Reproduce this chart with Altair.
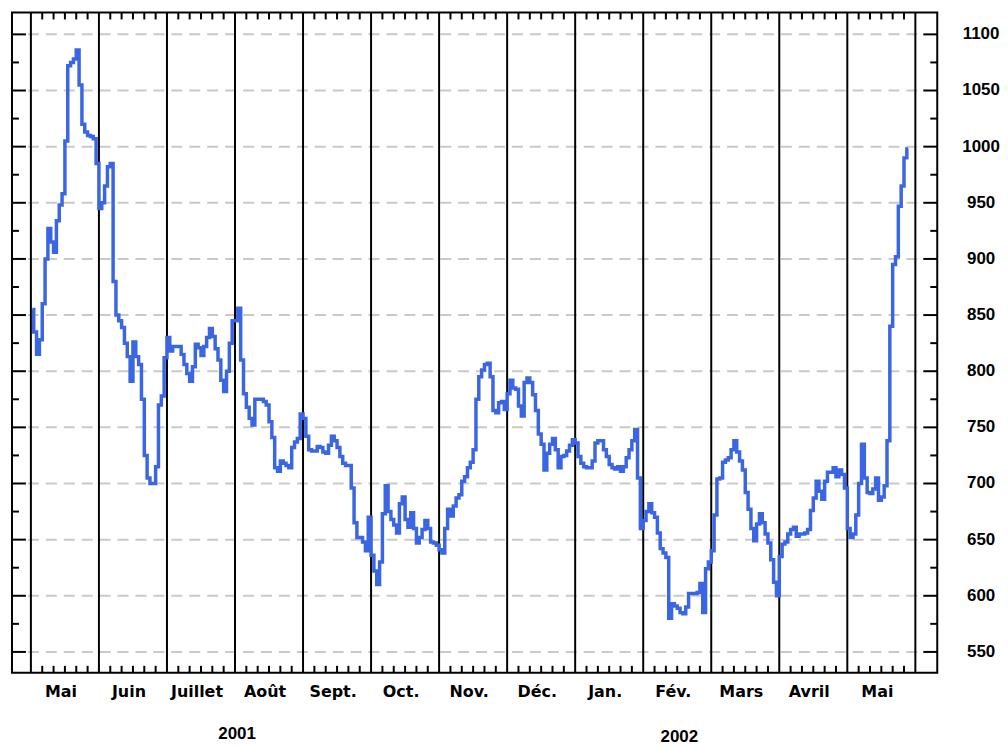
import altair as alt
import pandas as pd

# ---- data ----
months = ["Mai", "Juin", "Juillet", "Août", "Sept.", "Oct.", "Nov.",
          "Déc.", "Jan.", "Fév.", "Mars", "Avril", "Mai"]

mai01 = [855, 835, 815, 828, 860, 900, 927, 915, 906, 934, 948, 958,
         1005, 1072, 1075, 1078, 1086, 1055, 1020, 1013, 1010, 1009, 1007, 985]
juin01 = [945, 950, 965, 982, 985, 880, 850, 845, 839, 825, 813, 791,
          826, 813, 806, 775, 725, 705, 700, 700, 715, 770, 778, 812]
juil01 = [830, 818, 822, 822, 822, 815, 806, 798, 791, 804, 824, 821,
          814, 822, 830, 838, 831, 820, 810, 792, 782, 800, 825, 845]
aout01 = [845, 856, 810, 780, 768, 758, 752, 775, 775, 775, 773, 770,
          755, 741, 714, 711, 720, 718, 716, 714, 732, 737, 740, 762]
sept01 = [758, 742, 730, 729, 729, 733, 732, 728, 727, 734, 742, 738,
          732, 724, 718, 716, 716, 696, 665, 652, 652, 648, 640, 670]
oct01 = [636, 622, 610, 630, 673, 698, 675, 668, 663, 656, 682, 688,
         668, 661, 674, 660, 647, 652, 659, 667, 660, 648, 647, 645]
nov01 = [641, 638, 660, 677, 671, 680, 687, 690, 702, 706, 714, 719,
         730, 775, 795, 801, 806, 807, 795, 765, 763, 772, 773, 766]
dec01 = [780, 792, 785, 784, 769, 760, 790, 794, 790, 779, 765, 744,
         735, 712, 727, 735, 740, 730, 714, 724, 725, 729, 734, 739]
jan02 = [736, 724, 718, 715, 714, 714, 720, 736, 738, 738, 730, 724,
         717, 714, 713, 715, 711, 715, 723, 730, 738, 748, 705, 660]
fev02 = [667, 675, 682, 674, 670, 656, 642, 638, 634, 580, 593, 591,
         589, 585, 584, 590, 602, 602, 602, 603, 611, 585, 624, 630]
mars02 = [640, 672, 704, 705, 719, 721, 723, 730, 738, 728, 720, 712,
          692, 677, 660, 649, 664, 673, 665, 655, 647, 632, 612, 600]
avr02 = [635, 646, 648, 655, 659, 661, 653, 655, 655, 656, 659, 676,
         687, 702, 693, 686, 702, 710, 710, 714, 706, 712, 708, 696]
mai02 = [660, 652, 655, 672, 700, 735, 705, 692, 691, 695, 705, 685,
         688, 698, 738, 840, 895, 902, 947, 965, 990, 998]

series = [mai01, juin01, juil01, aout01, sept01, oct01, nov01,
          dec01, jan02, fev02, mars02, avr02, mai02]
SAMPLES_PER_MONTH = 24

y_major = list(range(550, 1101, 50))
y_minor = list(range(575, 1100, 50))
years = ["2001", "2002"]

# ---- tables ----
rows = []
for m, vals in enumerate(series):
    for i, v in enumerate(vals):
        rows.append({"t": m + (i + 0.5) / SAMPLES_PER_MONTH, "v": v})
df_line = pd.DataFrame(rows)
df_bounds = pd.DataFrame({"t": list(range(len(months) + 1))})
df_week = pd.DataFrame({"t": [m + k / 6 for m in range(len(months)) for k in range(1, 6)]})
df_major = pd.DataFrame({"v": y_major})
df_minor = pd.DataFrame({"v": y_minor})
df_months = pd.DataFrame({"t": [m + 0.5 for m in range(len(months))], "label": months})

W, H = 929, 663
xs = alt.Scale(domain=[-0.278, 13.322], nice=False, zero=False)
ys = alt.Scale(domain=[531.4, 1119.5], nice=False, zero=False)
X = lambda: alt.X("t:Q", scale=xs, axis=None)
Y = lambda: alt.Y("v:Q", scale=ys, axis=None)

grid = alt.Chart(df_major).mark_rule(color="#c9c9c9", strokeWidth=2, strokeDash=[11, 7]).encode(
    y=Y(), x=alt.value(16), x2=alt.value(W - 15))

bounds = alt.Chart(df_bounds).mark_rule(color="black", strokeWidth=2).encode(
    x=X(), y=alt.value(0), y2=alt.value(H))

week_bottom = alt.Chart(df_week).mark_rule(color="black", strokeWidth=2).encode(
    x=X(), y=alt.value(H), y2=alt.value(H - 7))
week_top = alt.Chart(df_week).mark_rule(color="black", strokeWidth=2).encode(
    x=X(), y=alt.value(0), y2=alt.value(7))

left_major = alt.Chart(df_major).mark_rule(color="black", strokeWidth=2).encode(
    y=Y(), x=alt.value(0), x2=alt.value(14))
left_minor = alt.Chart(df_minor).mark_rule(color="black", strokeWidth=2).encode(
    y=Y(), x=alt.value(0), x2=alt.value(7))
right_major = alt.Chart(df_major).mark_rule(color="black", strokeWidth=2).encode(
    y=Y(), x=alt.value(W - 14), x2=alt.value(W))
right_minor = alt.Chart(df_minor).mark_rule(color="black", strokeWidth=2).encode(
    y=Y(), x=alt.value(W - 7), x2=alt.value(W))

line = alt.Chart(df_line).mark_line(color="#3a66e4", strokeWidth=3.5, interpolate="step").encode(
    x=X(), y=Y())

ylabels = alt.Chart(df_major).mark_text(
    font="Liberation Sans", fontWeight="bold", fontSize=17, align="center",
    baseline="middle", color="black").encode(
    y=Y(), x=alt.value(W + 44), text=alt.Text("v:Q"))

mlabels = alt.Chart(df_months).mark_text(
    font="DejaVu Sans", fontWeight="bold", fontSize=16, align="center",
    baseline="alphabetic", dx=-4, color="black").encode(
    x=X(), y=alt.value(H + 24), text="label:N")

year1 = alt.Chart(pd.DataFrame({"label": [years[0]]})).mark_text(
    font="Liberation Sans", fontWeight="bold", fontSize=17, align="center",
    baseline="alphabetic", color="black").encode(
    x=alt.value(226), y=alt.value(H + 66), text="label:N")
year2 = alt.Chart(pd.DataFrame({"label": [years[1]]})).mark_text(
    font="Liberation Sans", fontWeight="bold", fontSize=17, align="center",
    baseline="alphabetic", color="black").encode(
    x=alt.value(670), y=alt.value(H + 69), text="label:N")

chart = alt.layer(
    grid, bounds, week_bottom, week_top, left_major, left_minor,
    right_major, right_minor, line, ylabels, mlabels, year1, year2
).properties(
    width=W, height=H,
    background="white",
    padding={"left": 3, "top": 2, "right": 0, "bottom": 0},
).configure_view(
    stroke="black", strokeWidth=2
)

chart.save("out.html", embed_options={"renderer": "svg", "actions": False})
